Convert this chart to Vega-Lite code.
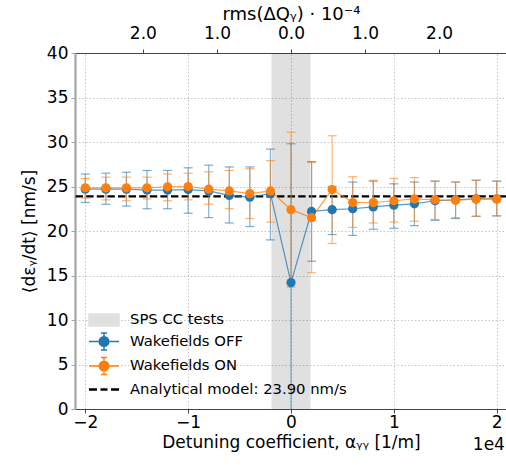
{
  "$schema": "https://vega.github.io/schema/vega-lite/v6.json",
  "autosize": {"type": "none"},
  "width": 432,
  "height": 356,
  "padding": {"left": 75, "top": 53, "right": 0, "bottom": 56},
  "background": "white",
  "datasets": {
    "pts": [
      {"x": -2.0, "series": "Wakefields OFF", "y": 24.7, "lo": 23.2, "hi": 26.4},
      {"x": -1.8, "series": "Wakefields OFF", "y": 24.7, "lo": 23.0, "hi": 26.5},
      {"x": -1.6, "series": "Wakefields OFF", "y": 24.7, "lo": 22.8, "hi": 26.6},
      {"x": -1.4, "series": "Wakefields OFF", "y": 24.6, "lo": 22.5, "hi": 26.8},
      {"x": -1.2, "series": "Wakefields OFF", "y": 24.6, "lo": 22.5, "hi": 26.8},
      {"x": -1.0, "series": "Wakefields OFF", "y": 24.65, "lo": 22.0, "hi": 27.1},
      {"x": -0.8, "series": "Wakefields OFF", "y": 24.5, "lo": 21.5, "hi": 27.4},
      {"x": -0.6, "series": "Wakefields OFF", "y": 24.0, "lo": 20.9, "hi": 27.2},
      {"x": -0.4, "series": "Wakefields OFF", "y": 23.8, "lo": 20.5, "hi": 27.2},
      {"x": -0.2, "series": "Wakefields OFF", "y": 24.2, "lo": 19.0, "hi": 29.2},
      {"x": 0.0, "series": "Wakefields OFF", "y": 14.2, "lo": -1.4, "hi": 29.8},
      {"x": 0.2, "series": "Wakefields OFF", "y": 22.2, "lo": 16.6, "hi": 27.8},
      {"x": 0.4, "series": "Wakefields OFF", "y": 22.4, "lo": 19.6, "hi": 25.0},
      {"x": 0.6, "series": "Wakefields OFF", "y": 22.5, "lo": 19.5, "hi": 25.5},
      {"x": 0.8, "series": "Wakefields OFF", "y": 22.7, "lo": 20.2, "hi": 25.6},
      {"x": 1.0, "series": "Wakefields OFF", "y": 22.9, "lo": 20.3, "hi": 25.3},
      {"x": 1.2, "series": "Wakefields OFF", "y": 23.05, "lo": 20.6, "hi": 25.5},
      {"x": 1.4, "series": "Wakefields OFF", "y": 23.4, "lo": 21.2, "hi": 25.6},
      {"x": 1.6, "series": "Wakefields OFF", "y": 23.5, "lo": 21.4, "hi": 25.5},
      {"x": 1.8, "series": "Wakefields OFF", "y": 23.6, "lo": 21.65, "hi": 25.7},
      {"x": 2.0, "series": "Wakefields OFF", "y": 23.6, "lo": 21.7, "hi": 25.6},
      {"x": -2.0, "series": "Wakefields ON", "y": 24.85, "lo": 23.7, "hi": 25.9},
      {"x": -1.8, "series": "Wakefields ON", "y": 24.85, "lo": 23.5, "hi": 26.05},
      {"x": -1.6, "series": "Wakefields ON", "y": 24.85, "lo": 23.4, "hi": 26.05},
      {"x": -1.4, "series": "Wakefields ON", "y": 24.85, "lo": 23.6, "hi": 26.05},
      {"x": -1.2, "series": "Wakefields ON", "y": 24.97, "lo": 23.4, "hi": 26.4},
      {"x": -1.0, "series": "Wakefields ON", "y": 25.0, "lo": 23.5, "hi": 26.5},
      {"x": -0.8, "series": "Wakefields ON", "y": 24.7, "lo": 23.0, "hi": 26.65},
      {"x": -0.6, "series": "Wakefields ON", "y": 24.5, "lo": 22.5, "hi": 26.8},
      {"x": -0.4, "series": "Wakefields ON", "y": 24.2, "lo": 21.4, "hi": 27.0},
      {"x": -0.2, "series": "Wakefields ON", "y": 24.5, "lo": 21.0, "hi": 27.9},
      {"x": 0.0, "series": "Wakefields ON", "y": 22.4, "lo": 13.7, "hi": 31.1},
      {"x": 0.2, "series": "Wakefields ON", "y": 21.5, "lo": 15.3, "hi": 27.7},
      {"x": 0.4, "series": "Wakefields ON", "y": 24.65, "lo": 18.6, "hi": 30.7},
      {"x": 0.6, "series": "Wakefields ON", "y": 23.2, "lo": 20.4, "hi": 26.1},
      {"x": 0.8, "series": "Wakefields ON", "y": 23.2, "lo": 20.9, "hi": 25.7},
      {"x": 1.0, "series": "Wakefields ON", "y": 23.4, "lo": 21.0, "hi": 25.9},
      {"x": 1.2, "series": "Wakefields ON", "y": 23.6, "lo": 21.1, "hi": 26.0},
      {"x": 1.4, "series": "Wakefields ON", "y": 23.5, "lo": 21.3, "hi": 25.6},
      {"x": 1.6, "series": "Wakefields ON", "y": 23.45, "lo": 21.5, "hi": 25.5},
      {"x": 1.8, "series": "Wakefields ON", "y": 23.6, "lo": 21.65, "hi": 25.7},
      {"x": 2.0, "series": "Wakefields ON", "y": 23.6, "lo": 21.7, "hi": 25.6}
    ],
    "band": [{"x0": -0.19, "x1": 0.19}],
    "model": [{"y": 23.9}],
    "note": [{"x": 2.08, "y": -4.05, "label": "1e4"}]
  },
  "resolve": {"axis": {"x": "independent"}},
  "layer": [
    {
      "data": {"name": "pts"},
      "transform": [{"filter": "false"}],
      "mark": {"type": "point", "filled": true, "opacity": 1, "fillOpacity": 1, "strokeOpacity": 1},
      "encoding": {
        "x": {"field": "x", "type": "quantitative", "axis": null},
        "y": {"field": "y", "type": "quantitative"},
        "color": {
          "field": "series", "type": "nominal",
          "scale": {
            "domain": ["SPS CC tests", "Wakefields OFF", "Wakefields ON", "Analytical model: 23.90 nm/s"],
            "range": ["#e0e0e0", "#1f77b4", "#ff7f0e", "#000000"]
          },
          "legend": {
            "title": null,
            "orient": "bottom-left",
            "offset": 12,
            "padding": 0,
            "labelFont": "DejaVu Sans",
            "labelFontSize": 14.8,
            "labelColor": "black",
            "labelOffset": 21,
            "labelLimit": 400,
            "rowPadding": 0.5,
            "symbolSize": 400,
            "symbolOpacity": 1,
            "symbolStrokeWidth": 1.4
          }
        },
        "stroke": {
          "field": "series", "type": "nominal",
          "scale": {
            "domain": ["SPS CC tests", "Wakefields OFF", "Wakefields ON", "Analytical model: 23.90 nm/s"],
            "range": ["#e0e0e0", "#1f77b4", "#ff7f0e", "#000000"]
          },
          "legend": {
            "title": null,
            "orient": "bottom-left",
            "offset": 12,
            "padding": 0,
            "labelFont": "DejaVu Sans",
            "labelFontSize": 14.8,
            "labelColor": "black",
            "labelOffset": 21,
            "labelLimit": 400,
            "rowPadding": 0.5,
            "symbolSize": 400,
            "symbolOpacity": 1,
            "symbolStrokeWidth": 1.4
          }
        },
        "shape": {
          "field": "series", "type": "nominal",
          "scale": {
            "domain": ["SPS CC tests", "Wakefields OFF", "Wakefields ON", "Analytical model: 23.90 nm/s"],
            "range": [
              "M-0.9,-0.6H2.1V0.6H-0.9Z",
              "M-0.9,0H2.1M0.6,-0.85V0.85M0.3,-0.85H0.9M0.3,0.85H0.9M0.12,0A0.48,0.48,0,1,0,1.08,0A0.48,0.48,0,1,0,0.12,0Z",
              "M-0.9,0H2.1M0.6,-0.85V0.85M0.3,-0.85H0.9M0.3,0.85H0.9M0.12,0A0.48,0.48,0,1,0,1.08,0A0.48,0.48,0,1,0,0.12,0Z",
              "M-0.9,-0.05H-0.1M-0.9,0.05H-0.1M0.25,-0.05H0.95M0.25,0.05H0.95M1.3,-0.05H2.1M1.3,0.05H2.1"
            ]
          },
          "legend": {
            "title": null,
            "orient": "bottom-left",
            "offset": 12,
            "padding": 0,
            "labelFont": "DejaVu Sans",
            "labelFontSize": 14.8,
            "labelColor": "black",
            "labelOffset": 21,
            "labelLimit": 400,
            "rowPadding": 0.5,
            "symbolSize": 400,
            "symbolOpacity": 1,
            "symbolStrokeWidth": 1.4
          }
        }
      }
    },
    {
      "data": {"name": "band"},
      "mark": {"type": "rect", "fill": "#000000", "opacity": 0.12},
      "encoding": {
        "x": {
          "field": "x0", "type": "quantitative",
          "scale": {"domain": [-2.1, 2.1], "nice": false, "zero": false},
          "axis": {
            "orient": "bottom",
            "values": [-2, -1, 0, 1, 2],
            "format": "d",
            "title": "Detuning coefficient, αᵧᵧ [1/m]",
            "grid": true,
            "domainColor": "#444444",
            "domainWidth": 1,
            "tickColor": "#444444",
            "tickSize": 4,
            "labelPadding": 1,
            "titlePadding": 4
          }
        },
        "x2": {"field": "x1"}
      }
    },
    {
      "data": {"name": "model"},
      "mark": {"type": "rule", "color": "black", "strokeWidth": 2.2, "strokeDash": [7.4, 3.2]},
      "encoding": {
        "y": {"field": "y", "type": "quantitative"}
      }
    },
    {
      "data": {"name": "pts"},
      "mark": {"type": "line", "strokeWidth": 1.2, "opacity": 0.75},
      "encoding": {
        "x": {"field": "x", "type": "quantitative", "axis": null},
        "y": {"field": "y", "type": "quantitative"},
        "color": {"field": "series", "type": "nominal"},
        "order": {"field": "x"}
      }
    },
    {
      "data": {"name": "pts"},
      "mark": {"type": "rule", "strokeWidth": 1.2, "opacity": 0.55, "clip": true},
      "encoding": {
        "x": {
          "field": "x", "type": "quantitative",
          "axis": {
            "orient": "top",
            "values": [-1.44, -0.72, 0, 0.72, 1.44],
            "labelExpr": "abs(datum.value) < 0.1 ? '0.0' : (abs(datum.value) < 1 ? '1.0' : '2.0')",
            "title": "rms(ΔQᵧ) · 10⁻⁴",
            "titleFontSize": 18,
            "grid": false,
            "domainColor": "#444444",
            "domainWidth": 1,
            "tickColor": "#444444",
            "tickSize": 4,
            "labelPadding": 7,
            "titlePadding": 1
          }
        },
        "y": {"field": "lo", "type": "quantitative"},
        "y2": {"field": "hi"},
        "color": {"field": "series", "type": "nominal"}
      }
    },
    {
      "data": {"name": "pts"},
      "mark": {"type": "tick", "orient": "horizontal", "size": 9, "thickness": 1.2, "opacity": 0.6, "clip": true},
      "encoding": {
        "x": {"field": "x", "type": "quantitative", "axis": null},
        "y": {"field": "lo", "type": "quantitative"},
        "color": {"field": "series", "type": "nominal"}
      }
    },
    {
      "data": {"name": "pts"},
      "mark": {"type": "tick", "orient": "horizontal", "size": 9, "thickness": 1.2, "opacity": 0.6, "clip": true},
      "encoding": {
        "x": {"field": "x", "type": "quantitative", "axis": null},
        "y": {"field": "hi", "type": "quantitative"},
        "color": {"field": "series", "type": "nominal"}
      }
    },
    {
      "data": {"name": "pts"},
      "mark": {"type": "point", "filled": true, "size": 85, "opacity": 1, "shape": "circle"},
      "encoding": {
        "x": {"field": "x", "type": "quantitative", "axis": null},
        "y": {
          "field": "y", "type": "quantitative",
          "scale": {"domain": [0, 40], "nice": false, "zero": true},
          "axis": {
            "values": [0, 5, 10, 15, 20, 25, 30, 35, 40],
            "title": "⟨dεᵧ/dt⟩ [nm/s]",
            "grid": true,
            "domainColor": "#a6a6a6",
            "domainWidth": 2.2,
            "tickColor": "#a6a6a6",
            "tickSize": 4,
            "labelPadding": 3,
            "titlePadding": 8
          }
        },
        "color": {"field": "series", "type": "nominal"}
      }
    },
    {
      "data": {"name": "note"},
      "mark": {"type": "text", "align": "right", "baseline": "middle", "fontSize": 17, "font": "DejaVu Sans", "color": "black"},
      "encoding": {
        "x": {"field": "x", "type": "quantitative", "axis": null},
        "y": {"field": "y", "type": "quantitative"},
        "text": {"field": "label"}
      }
    }
  ],
  "config": {
    "font": "DejaVu Sans",
    "view": {"stroke": null},
    "legend": {"symbolOpacity": 1},
    "axis": {
      "labelFont": "DejaVu Sans",
      "labelFontSize": 17,
      "titleFont": "DejaVu Sans",
      "titleFontSize": 17,
      "titleFontWeight": "normal",
      "labelColor": "black",
      "titleColor": "black",
      "gridColor": "#b8b8b8",
      "gridDash": [1.5, 2],
      "gridWidth": 0.8,
      "labelFlush": false,
      "labelOverlap": false
    }
  }
}
